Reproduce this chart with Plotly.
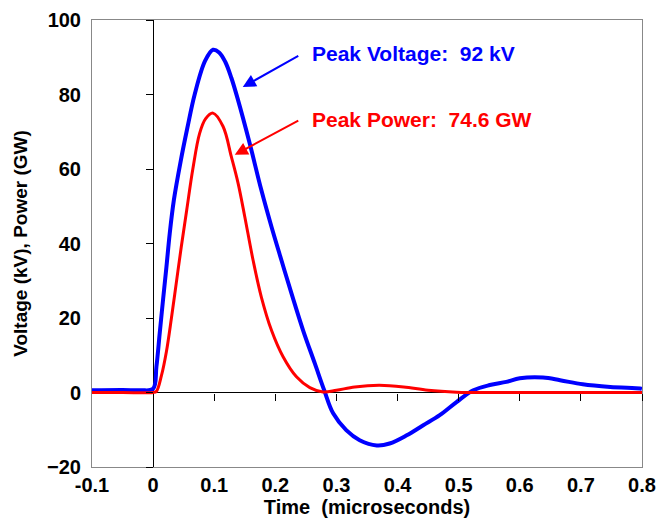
import plotly.graph_objects as go

# Voltage (kV) vs time (microseconds)
t_volt = [-0.1, -0.05, -0.02, 0.0, 0.0054, 0.0108, 0.0162, 0.0218, 0.0272, 0.034, 0.045,
          0.056, 0.068, 0.085, 0.098, 0.108, 0.118, 0.128, 0.139, 0.158, 0.177, 0.1937,
          0.21, 0.2264, 0.2454, 0.2646, 0.28,
          0.2946, 0.316, 0.338, 0.366, 0.387, 0.415, 0.442, 0.469, 0.497, 0.524,
          0.551, 0.578, 0.600, 0.638, 0.666, 0.703, 0.748, 0.797, 0.8]
voltage = [0.6, 0.7, 0.6, 1.0, 6.9, 15.9, 24.8, 33.7, 42.7, 51.7, 62.0,
           71.0, 80.0, 89.0, 92.0, 91.3, 88.8, 84.5, 78.5, 66.9, 54.4, 44.5,
           35.5, 26.6, 16.7, 7.8, 0.6,
           -5.6, -10.1, -12.8, -14.2, -13.7, -11.5, -8.8, -6.1, -2.5, 0.6,
           2.0, 2.85, 3.8, 4.0, 3.3, 2.2, 1.5, 1.1, 1.0]

# Power (GW) vs time (microseconds)
t_power = [-0.1, -0.05, 0.0, 0.0054, 0.0136, 0.0218, 0.03, 0.038, 0.046, 0.055, 0.065,
           0.076, 0.086, 0.098, 0.1145, 0.128, 0.139, 0.15, 0.1636, 0.177, 0.1937,
           0.2127, 0.2346, 0.2564, 0.278,
           0.30, 0.33, 0.37, 0.41, 0.45, 0.497, 0.55, 0.65, 0.8]
power = [0.0, 0.0, 0.0, 0.3, 4.5, 11.0, 20.0, 29.5, 39.0, 49.0, 60.0,
         69.5, 73.5, 75.0, 71.4, 63.3, 56.2, 47.2, 35.5, 25.7, 16.7,
         9.6, 4.2, 1.3, 0.15,
         0.6, 1.5, 1.95, 1.5, 0.6, 0.1, 0.0, 0.0, 0.0]

x_ticks = [-0.1, 0, 0.1, 0.2, 0.3, 0.4, 0.5, 0.6, 0.7, 0.8]
x_ticktext = ["-0.1", "0", "0.1", "0.2", "0.3", "0.4", "0.5", "0.6", "0.7", "0.8"]
y_ticks = [-20, 0, 20, 40, 60, 80, 100]

x_range = [-0.1, 0.8]
y_range = [-20, 100]

FONT = "Liberation Sans, Arial, Helvetica, sans-serif"

fig = go.Figure()
fig.add_trace(go.Scatter(x=t_volt, y=voltage, mode="lines",
                         line=dict(color="#0000FF", width=4, shape="spline", smoothing=1.0),
                         showlegend=False, hoverinfo="skip"))
fig.add_trace(go.Scatter(x=t_power, y=power, mode="lines",
                         line=dict(color="#FF0000", width=3, shape="spline", smoothing=1.0),
                         showlegend=False, hoverinfo="skip"))
# invisible trace to activate the crossing axes carrying tick marks
fig.add_trace(go.Scatter(x=[None], y=[None], xaxis="x2", yaxis="y2",
                         showlegend=False, hoverinfo="skip"))

tickfont = dict(family=FONT, size=20, color="black", weight="bold")

fig.update_layout(
    width=658, height=527,
    margin=dict(l=92, r=16, t=20, b=60),
    paper_bgcolor="white", plot_bgcolor="white",
    xaxis=dict(range=x_range, tickvals=x_ticks, ticktext=x_ticktext, automargin=False,
               ticks="", showgrid=False, showline=True, linecolor="#888888",
               linewidth=1, mirror=True, zeroline=True, zerolinecolor="black",
               zerolinewidth=1, tickfont=tickfont, ticklabelstandoff=0,
               title=dict(text="Time\u00a0 (microseconds)", standoff=4,
                          font=dict(family=FONT, size=20, color="black", weight="bold"))),
    yaxis=dict(range=y_range, tickvals=y_ticks, ticks="", showgrid=False, automargin=False,
               showline=True, linecolor="#888888", linewidth=1, mirror=True,
               zeroline=True, zerolinecolor="black", zerolinewidth=1,
               tickfont=tickfont, ticklabelstandoff=6,
               title=dict(text="Voltage (kV), Power (GW)", standoff=14,
                          font=dict(family=FONT, size=19, color="black", weight="bold"))),
    xaxis2=dict(range=x_range, overlaying="x", anchor="free", automargin=False,
                position=(0 - y_range[0]) / (y_range[1] - y_range[0]),
                tickvals=x_ticks[1:], ticks="outside", ticklen=7, tickcolor="black",
                tickwidth=1, showticklabels=False, showline=False, showgrid=False,
                zeroline=False),
    yaxis2=dict(range=y_range, overlaying="y", anchor="free", side="left", automargin=False,
                position=(0 - x_range[0]) / (x_range[1] - x_range[0]),
                tickvals=y_ticks, ticks="outside", ticklen=7, tickcolor="black",
                tickwidth=1, showticklabels=False, showline=False, showgrid=False,
                zeroline=False),
)

annfont = dict(family=FONT, size=21, weight="bold")
fig.add_annotation(x=0.2564, y=90.9, xref="x", yref="y", text="Peak Voltage:\u00a0 92 kV",
                   showarrow=False, xanchor="left", yanchor="middle",
                   font=dict(color="#0000FF", **annfont))
fig.add_annotation(x=0.2564, y=73.2, xref="x", yref="y", text="Peak Power:\u00a0 74.6 GW",
                   showarrow=False, xanchor="left", yanchor="middle",
                   font=dict(color="#FF0000", **annfont))
fig.add_annotation(x=0.1467, y=82.0, ax=0.24, ay=90.6, xref="x", yref="y",
                   axref="x", ayref="y", text="", showarrow=True, arrowhead=2,
                   arrowsize=1.3, arrowwidth=2, arrowcolor="#0000FF")
fig.add_annotation(x=0.1336, y=63.8, ax=0.24, ay=73.2, xref="x", yref="y",
                   axref="x", ayref="y", text="", showarrow=True, arrowhead=2,
                   arrowsize=1.3, arrowwidth=2, arrowcolor="#FF0000")

fig.write_html("out.html")
